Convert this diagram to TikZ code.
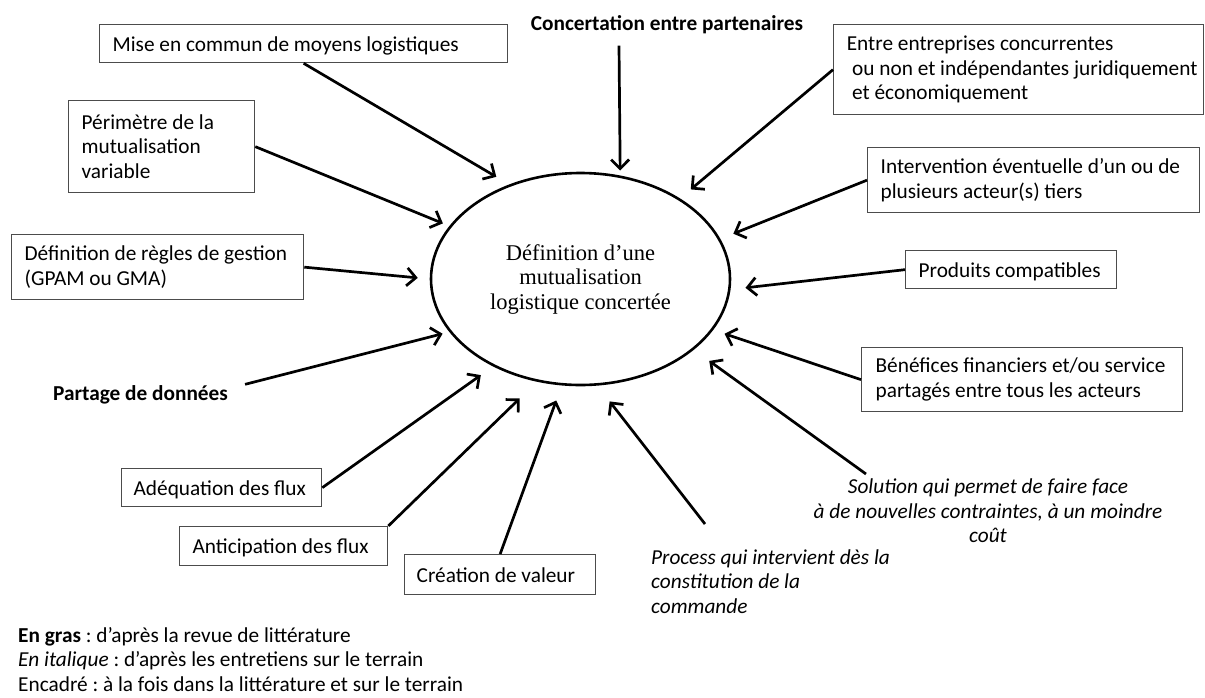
\documentclass[tikz,border=0pt]{standalone}
\usepackage{fontspec}
\setmainfont{Carlito}
\newfontfamily\policecentre{Liberation Serif}
\usetikzlibrary{shapes.geometric,arrows.meta}
\frenchspacing

\begin{document}
\begin{tikzpicture}[x=1pt,y=-1pt,font=\fontsize{21.3}{24.5}\selectfont,
    cadre/.style={draw=black!70, line width=1.3pt, rectangle, anchor=north west,
        inner xsep=13pt, inner ysep=0pt, align=flush left},
    ligne/.style={cadre, text depth=0pt},
    libre/.style={inner sep=0pt},
    fleche/.style={line width=2.7pt, -{Straight Barb[length=9pt,width=18pt]}}]
    \useasboundingbox (0,0) rectangle (1205,697);

    % la notion centrale
    \node[draw, ellipse, line width=2.6pt, minimum width=299pt, minimum height=212pt,
        inner sep=0pt, align=flush center, font=\policecentre\fontsize{22.5}{24.5}\selectfont]
        (centre) at (580.5,279) {Définition d’une\\mutualisation\\logistique concertée};

    % cadres : litterature et terrain
    \node[ligne, text width=382pt, minimum height=38pt] (mise) at (99,24)
        {\mbox{Mise en commun de moyens logistiques}};
    \node[cadre, text width=160pt, minimum height=92pt] (peri) at (68,100)
        {\mbox{Périmètre de la}\\mutualisation\\variable};
    \node[cadre, text width=266pt, minimum height=65pt] (regles) at (11,234)
        {\mbox{Définition de règles de gestion}\\\mbox{(GPAM ou GMA)}};
    \node[ligne, text width=176pt, minimum height=38pt, inner xsep=12pt] (adeq) at (121,468)
        {\mbox{Adéquation des flux}};
    \node[ligne, text width=182pt, minimum height=39pt] (antic) at (179,526)
        {\mbox{Anticipation des flux}};
    \node[ligne, text width=167pt, minimum height=40pt, inner xsep=12pt] (creation) at (404,554)
        {\mbox{Création de valeur}};
    \node[cadre, text width=350pt, minimum height=90pt, inner xsep=10pt] (entre) at (833,24)
        {\mbox{\hspace*{0.15em}Entre entreprises concurrentes}\\
         \mbox{\hspace*{0.4em}ou non et indépendantes juridiquement}\\
         \mbox{\hspace*{0.4em}et économiquement}};
    \node[cadre, text width=306pt, minimum height=65pt] (interv) at (867,147)
        {\mbox{Intervention éventuelle d’un ou de}\\\mbox{plusieurs acteur(s) tiers}};
    \node[ligne, text width=185pt, minimum height=38pt] (produits) at (905,250)
        {\mbox{Produits compatibles}};
    \node[cadre, text width=293pt, minimum height=64pt, inner xsep=14pt] (benef) at (861,347)
        {\mbox{Bénéfices financiers et/ou service}\\\mbox{partagés entre tous les acteurs}};

    % en gras : litterature
    \node[libre, anchor=base] (concert) at (667,30) {\bfseries Concertation entre partenaires};
    \node[libre, anchor=base] (partage) at (140.5,400) {\bfseries Partage de données};

    % en italique : terrain
    \node[libre, anchor=north west, align=flush left, font=\fontsize{21.3}{24.5}\selectfont\itshape]
        (process) at (651,549) {Process qui intervient dès la\\constitution de la\\commande};
    \node[libre, anchor=north, align=flush center, font=\fontsize{21.3}{24.5}\selectfont\itshape]
        (solution) at (988,479) {Solution qui permet de faire face\\à de nouvelles contraintes, à un moindre\\coût};

    % legende
    \node[libre, anchor=north west, align=flush left] (legende) at (18,627)
        {\textbf{En gras} : d’après la revue de littérature\\
         \textit{En italique} : d’après les entretiens sur le terrain\\
         Encadré : à la fois dans la littérature et sur le terrain};

    % fleches vers la notion centrale
    \draw[fleche, shorten >=5pt] ([shift={(-48pt,-12pt)}]concert.south) -- (centre.69.4);
    \draw[fleche, shorten >=15pt] (mise.south) -- (centre.127);
    \draw[fleche, shorten >=7pt] (peri.east) -- (centre.158);
    \draw[fleche, shorten >=12pt] (regles.east) -- (centre.180);
    \draw[fleche, shorten >=7pt] ([shift={(17pt,10pt)}]partage.east) -- (centre.202);
    \draw[fleche, shorten >=15pt] (adeq.east) -- (centre.225);
    \draw[fleche, shorten >=24pt] (antic.north east) -- (centre.247);
    \draw[fleche, shorten >=16pt] (creation.north) -- (centre.260);
    \draw[fleche, shorten >=20pt] ([shift={(54pt,25pt)}]process.north west) -- (centre.279);
    \draw[fleche, shorten >=19pt] ([shift={(-122pt,5pt)}]solution.north) -- (centre.328);
    \draw[fleche, shorten >=12pt] (benef.west) -- (centre.339);
    \draw[fleche, shorten >=15pt] (produits.west) -- (centre.356);
    \draw[fleche, shorten >=14pt] (interv.west) -- (centre.16.5);
    \draw[fleche, shorten >=14pt] (entre.west) -- (centre.39);
\end{tikzpicture}
\end{document}
